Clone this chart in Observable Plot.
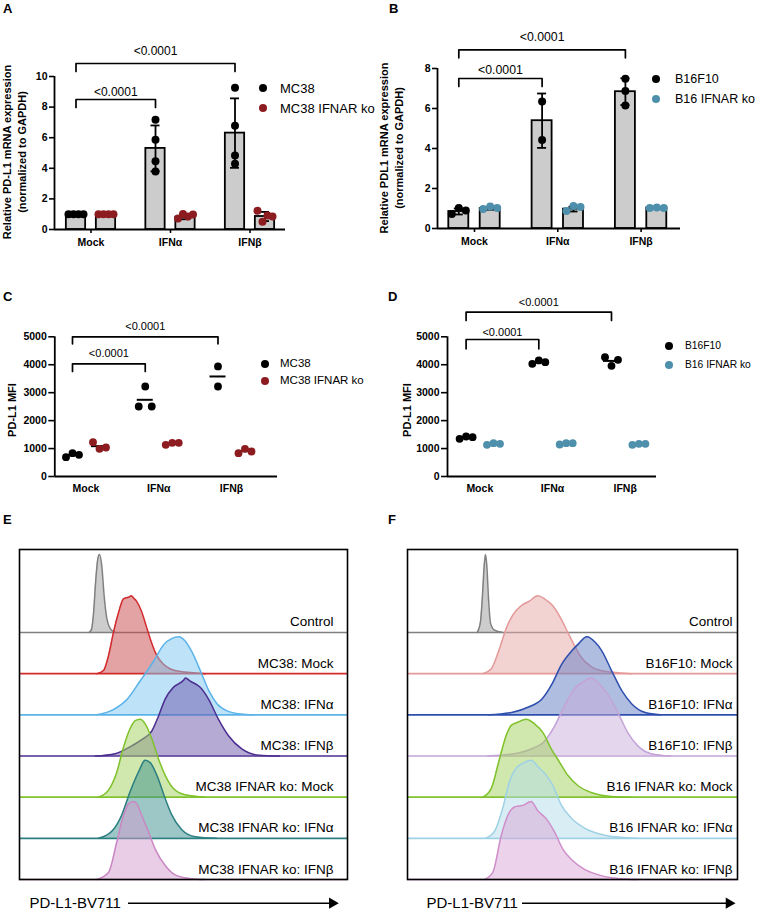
<!DOCTYPE html>
<html><head><meta charset="utf-8">
<script src="https://cdn.jsdelivr.net/npm/d3@7"></script>
<script src="https://cdn.jsdelivr.net/npm/@observablehq/plot@0.6"></script>
<style>
body{margin:0;background:#fff;}
#fig{position:relative;width:757px;height:911px;overflow:hidden;background:#fff;font-family:"Liberation Sans",Arial,Helvetica,sans-serif;color:#000;}
.abs{position:absolute;}
.abs svg{overflow:visible;}
.letter{position:absolute;font-weight:bold;font-size:13px;line-height:13px;}
.ylab{position:absolute;transform:translate(-50%,-50%) rotate(-90deg);white-space:nowrap;font-weight:bold;font-size:11px;line-height:15px;text-align:center;}
.legdot{position:absolute;width:8px;height:8px;border-radius:50%;transform:translate(-50%,-50%);}
.legtxt{position:absolute;white-space:nowrap;transform:translate(0,-50%);}
</style>
</head><body>
<div id="fig"></div>
<script>
// ---------------- DATA ----------------
const groups = ["Mock", "IFNα", "IFNβ"];
const pLabel = "<0.0001";

// Panel A: Relative PD-L1 mRNA expression (MC38)
const seriesA = ["MC38", "MC38 IFNAR ko"];
const barA_MC38 = [1.0, 5.3, 6.3];
const sdA_MC38 = [0, 1.5, 2.27];
const dotsA_MC38 = [[1, 1, 1, 1], [7.18, 5.86, 4.46, 3.79], [9.26, 6.78, 4.84, 4.29]];
const barA_KO = [1.0, 0.8, 0.85];
const sdA_KO = [0, 0.13, 0.3];
const dotsA_KO = [[1, 1, 1, 1], [0.72, 1.02, 0.85, 0.98], [1.22, 0.5, 0.92, 0.85]];
const yTicksA = [0, 2, 4, 6, 8, 10];

// Panel B: Relative PDL1 mRNA expression (B16F10)
const seriesB = ["B16F10", "B16 IFNAR ko"];
const barB_B16 = [0.85, 5.39, 6.84];
const sdB_B16 = [0.15, 1.36, 0.67];
const dotsB_B16 = [[0.73, 1.03, 0.9], [6.35, 4.43], [7.49, 6.87, 6.15]];
const barB_KO = [1.0, 0.97, 1.03];
const sdB_KO = [0.06, 0.12, 0.02];
const dotsB_KO = [[0.97, 1.1, 1.03], [0.87, 1.12, 1.07], [1.03, 1.05, 1.03]];
const yTicksB = [0, 2, 4, 6, 8];

// Panel C: PD-L1 MFI (MC38)
const meanC_MC38 = [768, 2745, 3580];
const dotsC_MC38 = [[692, 835, 776], [2506, 3222, 2506], [3938, 3222]];
const meanC_KO = [1086, 1181, 907];
const dotsC_KO = [[1229, 990, 1038], [1134, 1205, 1205], [835, 990, 895]];
const yTicksMFI = [0, 1000, 2000, 3000, 4000, 5000];

// Panel D: PD-L1 MFI (B16F10)
const meanD_B16 = [1396, 4093, 4137];
const dotsD_B16 = [[1348, 1432, 1408], [4033, 4153, 4093], [4272, 3962, 4177]];
const meanD_KO = [1165, 1177, 1157];
const dotsD_KO = [[1134, 1193, 1169], [1146, 1193, 1193], [1134, 1169, 1169]];

// Panels E/F: flow histograms, [channel, normalized count]
const rowsE = ["Control", "MC38: Mock", "MC38: IFNα", "MC38: IFNβ", "MC38 IFNAR ko: Mock", "MC38 IFNAR ko: IFNα", "MC38 IFNAR ko: IFNβ"];
const curveE_Control = [[69.7,0],[72,0.04],[74,0.24],[76.3,0.68],[78.3,0.94],[80,1],[82.3,0.85],[84.7,0.46],[87.3,0.18],[90.7,0.05],[95.7,0]];
const curveE_Mock = [[77.3,0],[84,0.04],[89,0.23],[94,0.53],[99,0.78],[104,0.96],[109,0.98],[112,1],[114,0.97],[117,0.93],[122,0.8],[127,0.6],[132,0.4],[137,0.24],[144,0.12],[151,0.06],[159,0.03],[176,0.01],[186,0]];
const curveE_IFNa = [[77.7,0],[94.3,0.07],[107.7,0.2],[121,0.44],[134.3,0.69],[144.3,0.9],[152.7,0.98],[159.3,1],[166,0.94],[172.7,0.8],[181,0.56],[189.3,0.31],[197.7,0.14],[207.7,0.05],[221,0.01],[234,0]];
const curveE_IFNb = [[75.7,0],[95.7,0.03],[112.3,0.13],[122.3,0.21],[132.3,0.32],[139,0.51],[145.7,0.73],[154,0.88],[164,0.97],[166,1],[170.7,0.96],[180.7,0.88],[189,0.73],[199,0.47],[209,0.26],[222.3,0.09],[239,0.01],[260,0]];
const curveE_KOMock = [[79,0],[89,0.09],[97.3,0.32],[104,0.64],[110.7,0.88],[115.7,0.98],[120.7,1],[125.7,0.94],[132.3,0.75],[139,0.49],[145.7,0.28],[154,0.11],[165.7,0.03],[185.7,0]];
const curveE_KOIFNa = [[79,0],[92.3,0.09],[102.3,0.3],[110.7,0.6],[119,0.85],[125.7,1],[130.7,0.97],[137.3,0.81],[145.7,0.51],[152.3,0.3],[162.3,0.11],[175.7,0.02],[197,0]];
const curveE_KOIFNb = [[77.3,0],[89,0.09],[97.3,0.48],[104,0.82],[109,0.97],[114,1],[117.3,0.97],[122.3,0.82],[129,0.61],[135.7,0.39],[145.7,0.18],[155.7,0.06],[172.3,0.01],[185,0]];

const rowsF = ["Control", "B16F10: Mock", "B16F10: IFNα", "B16F10: IFNβ", "B16 IFNAR ko: Mock", "B16 IFNAR ko: IFNα", "B16 IFNAR ko: IFNβ"];
const curveF_Control = [[69.7,0],[73,0.14],[75,0.48],[76.7,0.86],[78,1],[79.3,0.86],[81,0.44],[83,0.12],[87,0.03],[95.3,0]];
const curveF_Mock = [[75.3,0],[83.7,0.06],[92,0.32],[98.7,0.58],[105.3,0.75],[113.7,0.87],[122,0.93],[130.3,1],[137,0.96],[145.3,0.87],[153.7,0.7],[160.3,0.53],[167,0.36],[173.7,0.21],[183.7,0.09],[197,0.03],[224,0]];
const curveF_IFNa = [[81,0],[104.3,0.03],[121,0.1],[134.3,0.2],[144.3,0.39],[154.3,0.65],[164.3,0.82],[171,0.91],[179.3,1],[187.7,0.93],[194.3,0.82],[204.3,0.56],[214.3,0.31],[224.3,0.14],[237.7,0.03],[253,0]];
const curveF_IFNb = [[80.3,0],[107,0.03],[123.7,0.09],[137,0.19],[147,0.38],[157,0.64],[167,0.86],[177,0.96],[183.7,1],[192,0.92],[200.3,0.79],[210.3,0.56],[220.3,0.3],[230.3,0.13],[243.7,0.03],[263,0]];
const curveF_KOMock = [[75.3,0],[83.7,0.11],[92,0.49],[98.7,0.79],[103.7,0.92],[110.3,0.96],[118.7,1],[127,0.94],[135.3,0.83],[143.7,0.62],[152,0.45],[160.3,0.28],[170.3,0.15],[183.7,0.06],[203.7,0.01],[223,0]];
const curveF_KOIFNa = [[77.7,0],[87,0.09],[95.3,0.39],[102,0.73],[108.7,0.9],[115.3,0.96],[123.7,1],[130.3,0.92],[138.7,0.81],[145.3,0.68],[153.7,0.43],[163.7,0.26],[177,0.13],[197,0.04],[217,0.01],[230,0]];
const curveF_KOIFNb = [[77,0],[85.3,0.09],[93.7,0.56],[100.3,0.82],[107,0.93],[115.3,0.95],[123.7,1],[130.3,0.88],[138.7,0.78],[147,0.61],[155.3,0.39],[163.7,0.26],[177,0.13],[193.7,0.05],[213.7,0.01],[230,0]];

// ---------------- STYLE ----------------
const FONT = '"Liberation Sans", Arial, Helvetica, sans-serif';
const C_WT = "#000000", C_KO_RED = "#8c1c1f", C_KO_BLUE = "#4e8fab", BAR_FILL = "#cccccc";
const histColorsE = [
  {line: "#808080", fill: "#9c9c9c"}, {line: "#d22b2d", fill: "#c8484a"},
  {line: "#5cb3ea", fill: "#7ec7f1"}, {line: "#4c2e90", fill: "#6a55a9"},
  {line: "#7fc22c", fill: "#a2d25c"}, {line: "#2c7f81", fill: "#3c908f"},
  {line: "#c987c3", fill: "#d49ccf"}];
const histColorsF = [
  {line: "#808080", fill: "#9c9c9c"}, {line: "#e59a9a", fill: "#e8a6a6"},
  {line: "#2f4fae", fill: "#5f7cc3"}, {line: "#c4a3d7", fill: "#c7addc"},
  {line: "#7fc22c", fill: "#a2d25c"}, {line: "#9fd1e5", fill: "#b3dbea"},
  {line: "#cf8fcb", fill: "#d9a6d6"}];

const fig = document.getElementById("fig");
function add(html) { fig.insertAdjacentHTML("beforeend", html); }

// Spread overlapping dots horizontally (column scatter)
function scatterOffsets(values, pxPerUnit, thresh, spread) {
  const n = values.length, off = new Array(n).fill(0);
  const idx = values.map((v, i) => i).sort((a, b) => values[a] - values[b]);
  const clusters = []; let cur = [idx[0]];
  for (let k = 1; k < n; k++) {
    if ((values[idx[k]] - values[idx[k - 1]]) * pxPerUnit < thresh) cur.push(idx[k]);
    else { clusters.push(cur); cur = [idx[k]]; }
  }
  clusters.push(cur);
  for (const c of clusters) {
    if (c.length < 2) continue;
    const m = c.slice().sort((a, b) => a - b);
    m.forEach((i, j) => off[i] = (j / (m.length - 1) - 0.5) * spread);
  }
  return off;
}

function columnPanel(cfg) {
  const {left, top, W, H, axisL, axisR, y0, yTop, yMax, c0, step, off} = cfg;
  const xDom = [(axisL - c0) / step, (axisR - c0) / step];
  const pyu = (y0 - yTop) / yMax;
  const ux = px => px / step;
  const yAt = absPx => (y0 - absPx) / pyu;
  const rows = [];
  cfg.series.forEach((s, si) => {
    const sign = si === 0 ? -1 : 1;
    groups.forEach((g, gi) => rows.push({gi, si, x: gi + sign * ux(off), mean: s.means[gi], sd: s.sds ? s.sds[gi] : 0, color: s.color, vals: s.dots[gi]}));
  });
  const dots = [];
  rows.forEach(r => {
    const o = scatterOffsets(r.vals, pyu, cfg.thresh, cfg.spread);
    r.vals.forEach((v, k) => dots.push({x: r.x + ux(o[k]), y: v, color: r.color}));
  });
  const marks = [];
  if (cfg.mode === "bar") {
    const hw = ux(cfg.barW / 2), cw = ux(cfg.capW / 2);
    const err = rows.filter(d => d.sd > 0);
    marks.push(Plot.rect(rows, {x1: d => d.x - hw, x2: d => d.x + hw, y1: 0, y2: "mean", fill: BAR_FILL, stroke: "#000", strokeWidth: 1.8}));
    marks.push(Plot.ruleX(err, {x: "x", y1: d => d.mean - d.sd, y2: d => d.mean + d.sd, stroke: "#000", strokeWidth: 1.8}));
    marks.push(Plot.ruleY(err, {y: d => d.mean + d.sd, x1: d => d.x - cw, x2: d => d.x + cw, stroke: "#000", strokeWidth: 1.8}));
    marks.push(Plot.ruleY(err, {y: d => d.mean - d.sd, x1: d => d.x - cw, x2: d => d.x + cw, stroke: "#000", strokeWidth: 1.8}));
  } else {
    const mw = ux(cfg.meanW / 2);
    marks.push(Plot.ruleY(rows, {y: "mean", x1: d => d.x - mw, x2: d => d.x + mw, stroke: "#000", strokeWidth: 2}));
  }
  marks.push(Plot.dot(dots, {x: "x", y: "y", r: cfg.r, fill: "color", stroke: null}));
  // significance brackets (MC38 / B16F10 columns)
  const wt = rows.filter(d => d.si === 0);
  const brPts = [], brTxt = [];
  cfg.brackets.forEach((b, bi) => {
    const xa = wt[0].x, xb = wt[b.to].x, yb = yAt(b.yPx), yt = yAt(b.yPx + b.tick);
    [[xa, yt], [xa, yb], [xb, yb], [xb, yt]].forEach(p => brPts.push({x: p[0], y: p[1], id: bi}));
    brTxt.push({x: (xa + xb) / 2, y: yb, gap: b.gap});
  });
  marks.push(Plot.line(brPts, {x: "x", y: "y", z: "id", stroke: "#000", strokeWidth: 1.7}));
  brTxt.forEach(t => marks.push(Plot.text([t], {x: "x", y: "y", text: () => pLabel, lineAnchor: "bottom", dy: -t.gap, fontSize: cfg.pFont, fontWeight: "normal"})));
  // axes
  marks.push(Plot.ruleY([0], {stroke: "#000", strokeWidth: 1.8}));
  marks.push(Plot.ruleX([xDom[0]], {stroke: "#000", strokeWidth: 1.8}));
  marks.push(Plot.axisX({ticks: [0, 1, 2], tickFormat: i => groups[i], tickSize: cfg.xTickSize, tickPadding: cfg.xTickPad, label: null, strokeWidth: 1.6, fontSize: 10.5, fontWeight: "bold"}));
  marks.push(Plot.axisY({ticks: cfg.yTicks, tickFormat: d => String(d), tickSize: cfg.yTickSize, tickPadding: 2, label: null, strokeWidth: 1.6, fontSize: 10.5, fontWeight: "bold"}));
  const chart = Plot.plot({
    width: W, height: H,
    marginLeft: axisL - left, marginRight: left + W - axisR,
    marginTop: yTop - top, marginBottom: top + H - y0,
    x: {type: "linear", domain: xDom},
    y: {type: "linear", domain: [0, yMax]},
    style: {fontFamily: FONT, fontSize: "10.5px", fontWeight: "bold", color: "#000", background: "transparent", overflow: "visible"},
    marks
  });
  const div = document.createElement("div");
  div.className = "abs"; div.style.left = left + "px"; div.style.top = top + "px";
  div.appendChild(chart); fig.appendChild(div);
  // legend
  cfg.legend.forEach((l, i) => {
    add(`<div class="legdot" style="left:${cfg.legX}px;top:${cfg.legY[i]}px;background:${l.color}"></div>`);
    add(`<div class="legtxt" style="left:${cfg.legTx}px;top:${cfg.legY[i]}px;font-size:${cfg.legFont}px;line-height:${cfg.legFont}px">${l.name}</div>`);
  });
}

function histPanel(cfg) {
  const {left, top, W, H, mL, mR, mT, mB, xMax} = cfg;
  const yMaxU = 8.016, PEAK = 1.895;
  const marks = [];
  cfg.curves.forEach((c, r) => {
    const base = 6 - r, col = cfg.colors[r];
    marks.push(Plot.area(c, {x1: d => d[0], y1: () => base, y2: d => base + d[1] * PEAK, fill: col.fill, fillOpacity: 0.5, curve: "monotone-x"}));
    marks.push(Plot.ruleY([base], {stroke: col.line, strokeWidth: 1.6}));
    marks.push(Plot.line(c, {x: d => d[0], y: d => base + d[1] * PEAK, stroke: col.line, strokeWidth: 1.5, curve: "monotone-x"}));
  });
  cfg.labels.forEach((lab, r) => marks.push(Plot.text([lab], {x: xMax - cfg.labelPad, y: 6 - r, text: d => d, textAnchor: "end", lineAnchor: "bottom", dy: -6, fontSize: 13.5})));
  marks.push(Plot.frame({stroke: "#000", strokeWidth: 1.6}));
  const ya = -0.576;
  marks.push(Plot.text(["PD-L1-BV711"], {x: cfg.textX, y: ya, text: d => d, textAnchor: "start", fontSize: 15}));
  marks.push(Plot.ruleY([ya], {x1: cfg.ax1, x2: cfg.ax2 - 8, stroke: "#000", strokeWidth: 1.6}));
  marks.push(Plot.dot([ya], {x: cfg.ax2 - 6.2, y: d => d, symbol: "triangle", r: 4.2, fill: "#000", stroke: null, rotate: 90}));
  const chart = Plot.plot({
    width: W, height: H, marginLeft: mL, marginRight: mR, marginTop: mT, marginBottom: mB,
    x: {domain: [0, xMax], axis: null}, y: {domain: [0, yMaxU], axis: null},
    style: {fontFamily: FONT, fontSize: "13px", color: "#000", background: "transparent", overflow: "visible"},
    marks
  });
  const div = document.createElement("div");
  div.className = "abs"; div.style.left = left + "px"; div.style.top = top + "px";
  div.appendChild(chart); fig.appendChild(div);
}

// ---------------- PANELS ----------------
columnPanel({
  left: 0, top: 0, W: 378, H: 260, axisL: 54, axisR: 285, y0: 229, yTop: 76, yMax: 10, yTicks: yTicksA,
  c0: 90.5, step: 79.5, off: 15, mode: "bar", barW: 19.3, capW: 9, r: 4, thresh: 8, spread: 15,
  xTickSize: 4, xTickPad: 5, yTickSize: 5, pFont: 12, legFont: 13,
  series: [{means: barA_MC38, sds: sdA_MC38, dots: dotsA_MC38, color: C_WT}, {means: barA_KO, sds: sdA_KO, dots: dotsA_KO, color: C_KO_RED}],
  brackets: [{to: 1, yPx: 99, tick: 8, gap: 4}, {to: 2, yPx: 63, tick: 8, gap: 9}],
  legend: [{name: seriesA[0], color: C_WT}, {name: seriesA[1], color: C_KO_RED}], legX: 263, legY: [87.7, 107.7], legTx: 280
});
columnPanel({
  left: 378, top: 0, W: 379, H: 260, axisL: 437, axisR: 680, y0: 228, yTop: 68, yMax: 8, yTicks: yTicksB,
  c0: 474, step: 83.3, off: 15.7, mode: "bar", barW: 20, capW: 9, r: 4, thresh: 8, spread: 14,
  xTickSize: 4, xTickPad: 5, yTickSize: 5, pFont: 12.3, legFont: 12.5,
  series: [{means: barB_B16, sds: sdB_B16, dots: dotsB_B16, color: C_WT}, {means: barB_KO, sds: sdB_KO, dots: dotsB_KO, color: C_KO_BLUE}],
  brackets: [{to: 1, yPx: 78, tick: 8, gap: 5}, {to: 2, yPx: 49.3, tick: 8, gap: 9}],
  legend: [{name: seriesB[0], color: C_WT}, {name: seriesB[1], color: C_KO_BLUE}], legX: 656, legY: [79, 99], legTx: 675
});
columnPanel({
  left: 0, top: 260, W: 378, H: 250, axisL: 54.3, axisR: 277, y0: 476, yTop: 336.3, yMax: 5000, yTicks: yTicksMFI,
  c0: 85.5, step: 72.75, off: 13.5, mode: "scatter", meanW: 16, r: 3.9, thresh: 8, spread: 13,
  xTickSize: 0, xTickPad: 8, yTickSize: 6, pFont: 11, legFont: 11.5,
  series: [{means: meanC_MC38, dots: dotsC_MC38, color: C_WT}, {means: meanC_KO, dots: dotsC_KO, color: C_KO_RED}],
  brackets: [{to: 1, yPx: 363.3, tick: 7.7, gap: 7}, {to: 2, yPx: 336.3, tick: 7, gap: 7}],
  legend: [{name: seriesA[0], color: C_WT}, {name: seriesA[1], color: C_KO_RED}], legX: 265, legY: [364.3, 380.7], legTx: 280
});
columnPanel({
  left: 378, top: 260, W: 379, H: 250, axisL: 447, axisR: 656, y0: 476, yTop: 336.3, yMax: 5000, yTicks: yTicksMFI,
  c0: 479.3, step: 72.7, off: 13.7, mode: "scatter", meanW: 16, r: 3.9, thresh: 8, spread: 13,
  xTickSize: 0, xTickPad: 8, yTickSize: 6, pFont: 11, legFont: 10.3,
  series: [{means: meanD_B16, dots: dotsD_B16, color: C_WT}, {means: meanD_KO, dots: dotsD_KO, color: C_KO_BLUE}],
  brackets: [{to: 1, yPx: 339, tick: 9.3, gap: 4}, {to: 2, yPx: 311.7, tick: 8.3, gap: 6}],
  legend: [{name: seriesB[0], color: C_WT}, {name: seriesB[1], color: C_KO_BLUE}], legX: 669, legY: [345.7, 364.7], legTx: 685
});
histPanel({
  left: 0, top: 540, W: 378, H: 371, mL: 19, mR: 31, mT: 9, mB: 32, xMax: 328,
  curves: [curveE_Control, curveE_Mock, curveE_IFNa, curveE_IFNb, curveE_KOMock, curveE_KOIFNa, curveE_KOIFNb],
  colors: histColorsE, labels: rowsE, labelPad: 14, textX: 10, ax1: 109, ax2: 319
});
histPanel({
  left: 378, top: 540, W: 379, H: 371, mL: 29, mR: 20, mT: 9, mB: 32, xMax: 330,
  curves: [curveF_Control, curveF_Mock, curveF_IFNa, curveF_IFNb, curveF_KOMock, curveF_KOIFNa, curveF_KOIFNb],
  colors: histColorsF, labels: rowsF, labelPad: 5, textX: 19, ax1: 115, ax2: 327.7
});

// ---------------- LABELS ----------------
add(`<div class="ylab" style="left:15px;top:152px">Relative PD-L1 mRNA expression<br>(normalized to GAPDH)</div>`);
add(`<div class="ylab" style="left:392px;top:148px">Relative PDL1 mRNA expression<br>(normalized to GAPDH)</div>`);
add(`<div class="ylab" style="left:12px;top:410px">PD-L1 MFI</div>`);
add(`<div class="ylab" style="left:407px;top:410px">PD-L1 MFI</div>`);
[["A", 3, 2], ["B", 389, 2], ["C", 3, 290], ["D", 388, 290], ["E", 3, 513], ["F", 388, 513]].forEach(([t, x, y]) =>
  add(`<div class="letter" style="left:${x}px;top:${y}px">${t}</div>`));
</script>
</body></html>
